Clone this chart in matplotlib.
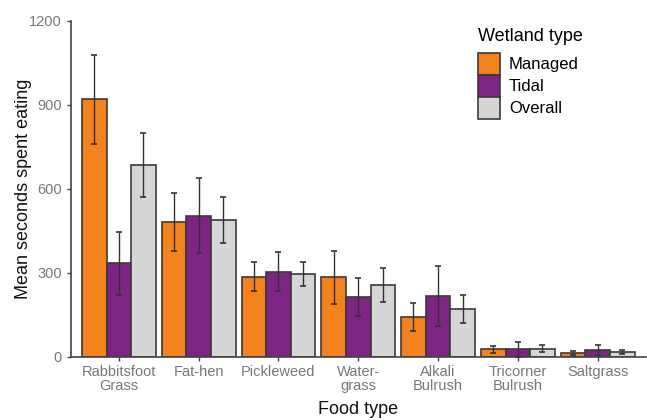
import matplotlib
import matplotlib.pyplot as plt
import numpy as np

matplotlib.use("Agg")

foods = ["Rabbitsfoot\nGrass", "Fat-hen", "Pickleweed", "Water-\ngrass",
         "Alkali\nBulrush", "Tricorner\nBulrush", "Saltgrass"]
groups = ["Managed", "Tidal", "Overall"]

managed = [920, 483, 287, 285, 142, 27, 13]
managed_err = [160, 103, 53, 94, 50, 13, 7]
tidal = [335, 505, 305, 215, 219, 27, 26]
tidal_err = [113, 134, 70, 68, 107, 28, 18]
overall = [686, 489, 296, 257, 171, 30, 19]
overall_err = [113, 81, 43, 61, 50, 12, 7]

colors = ["#F4821F", "#7E2483", "#D6D6D6"]

plt.rcParams["font.family"] = ["Liberation Sans", "DejaVu Sans"]

fig = plt.figure(figsize=(6.47, 4.2), dpi=100)
ax = fig.add_axes([0.1097, 0.15, 0.888, 0.80])

x = np.arange(len(foods))
width = 0.925 / 3
series = [(managed, managed_err), (tidal, tidal_err), (overall, overall_err)]
for i, (vals, errs) in enumerate(series):
    pos = x + (i - 1) * width
    ax.bar(pos, vals, width, color=colors[i], edgecolor="#3a3a3a",
           linewidth=1.2, label=groups[i], zorder=2)
    ax.errorbar(pos, vals, yerr=errs, fmt="none", ecolor="#333333",
                elinewidth=1.0, capsize=2.5, capthick=1.2, zorder=3)

ax.set_xlim(-0.6, len(foods) - 0.4)
ax.set_ylim(0, 1200)
ax.set_yticks([0, 300, 600, 900, 1200])
ax.set_xticks(x)
ax.set_xticklabels(foods, linespacing=0.95)

for side in ["top", "right"]:
    ax.spines[side].set_visible(False)
for side in ["left", "bottom"]:
    ax.spines[side].set_color("#444444")
    ax.spines[side].set_linewidth(1.2)

ax.tick_params(axis="both", colors="#444444", labelcolor="#777777",
               labelsize=10.5, length=3, width=1)
ax.tick_params(axis="x", pad=3)

ax.set_ylabel("Mean seconds spent eating", fontsize=13, color="#111111",
              labelpad=-2)
ax.set_xlabel("Food type", fontsize=13, color="#111111", labelpad=6)

leg = ax.legend(title="Wetland type", loc="upper left",
                bbox_to_anchor=(0.708, 0.98), frameon=False, fontsize=12,
                title_fontsize=13, handlelength=1.32, handleheight=1.65,
                labelspacing=0.0, handletextpad=0.55, borderaxespad=0,
                borderpad=0)
leg.set_alignment("left")
# a little space between the title and the keys
leg._legend_box.sep = 6

fig.savefig("out.png", dpi=100)
